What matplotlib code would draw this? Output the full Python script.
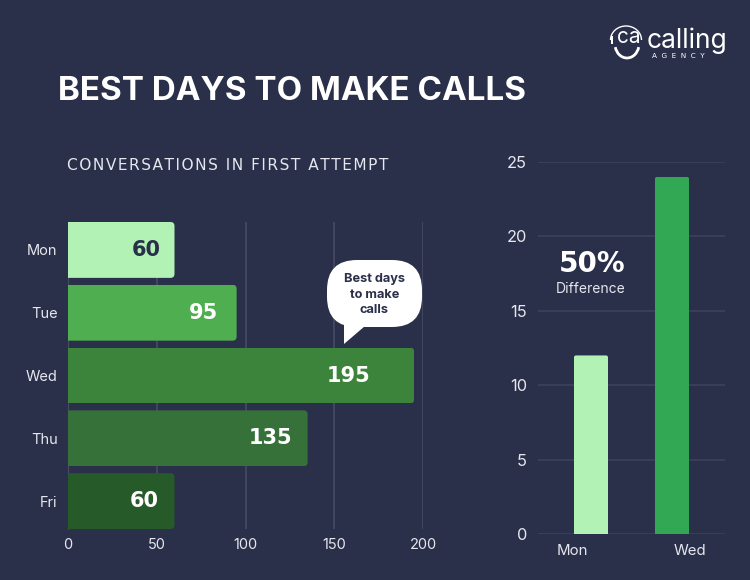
import matplotlib
matplotlib.use("Agg")
import matplotlib.pyplot as plt
from matplotlib.patches import FancyBboxPatch, Polygon, Arc, Rectangle

W, H = 750, 580
BG = "#2a2f4a"
GRID = "#494c68"
GRID_SOFT = "#3e4261"
TEXT = "#e6e7ee"

days = ["Mon", "Tue", "Wed", "Thu", "Fri"]
conversations = [60, 95, 195, 135, 60]
day_colors = ["#b3f2b5", "#4fae50", "#3c833b", "#36713a", "#265a28"]
label_colors = ["#2a2f4a", "white", "white", "white", "white"]
label_pads = [14, 19, 44, 15, 16]
x_ticks = [0, 50, 100, 150, 200]

compare_days = ["Mon", "Wed"]
compare_values = [12, 24]
compare_colors = ["#b3f2b5", "#33a854"]
y_ticks = [0, 5, 10, 15, 20, 25]

plt.rcParams["font.family"] = ["Inter", "DejaVu Sans"]


def px_axes(fig, left, top, right, bottom):
    return fig.add_axes([left / W, 1 - bottom / H, (right - left) / W, (bottom - top) / H])


def round_bar(ax, bar, radius_px, horizontal=True):
    # clip the plain bar with a rounded box, radius given in pixels
    x, y, w, h = bar.get_x(), bar.get_y(), bar.get_width(), bar.get_height()
    sx = ax.transData.transform((1, 0))[0] - ax.transData.transform((0, 0))[0]
    sy = abs(ax.transData.transform((0, 1))[1] - ax.transData.transform((0, 0))[1])
    rx = radius_px / sx
    if horizontal:
        box = FancyBboxPatch((x - rx * 3, y), w + rx * 3, h,
                             boxstyle=f"round,pad=0,rounding_size={rx}",
                             mutation_aspect=sx / sy, transform=ax.transData)
    else:
        extra = radius_px * 3 / sy
        box = FancyBboxPatch((x, y - extra), w, h + extra,
                             boxstyle=f"round,pad=0,rounding_size={rx}",
                             mutation_aspect=sx / sy, transform=ax.transData)
    bar.set_clip_path(box)


fig = plt.figure(figsize=(W / 100, H / 100), dpi=100, facecolor=BG)

# ── left chart ────────────────────────────────────────────────────────────────
ax = px_axes(fig, 68, 222, 423, 529)
ax.set_facecolor("none")
bars = ax.barh(days, conversations, height=0.89, color=day_colors, zorder=3)
ax.set_xlim(0, 200)
ax.set_ylim(4.445, -0.445)
ax.set_xticks(x_ticks)
ax.grid(axis="x", color=GRID, lw=1.1, zorder=0)
ax.grid(axis="y", visible=False)
ax.tick_params(length=0, colors=TEXT, labelsize=10.5, pad=6.5)
ax.tick_params(axis="y", pad=7.5)
for s in ax.spines.values():
    s.set_visible(False)
ax.spines["left"].set_visible(True)
ax.spines["left"].set_color(GRID)
for bar, val, col, pad, in zip(bars, conversations, label_colors, label_pads):
    round_bar(ax, bar, 4)
    ax.annotate(str(val), (val, bar.get_y() + bar.get_height() / 2),
                xytext=(-pad * 0.72, 0), textcoords="offset points",
                ha="right", va="center", color=col, zorder=4,
                fontsize=15, fontweight="bold", family="DejaVu Sans")

# ── right chart ───────────────────────────────────────────────────────────────
ax2 = px_axes(fig, 538, 162, 725, 534)
ax2.set_facecolor("none")
pos = [0, 1]
bars2 = ax2.bar(pos, compare_values, width=0.42, color=compare_colors, zorder=3)
ax2.set_xlim(-0.654, 1.654)
ax2.set_ylim(0, 25)
ax2.set_yticks(y_ticks)
# the day labels sit off centre in the original
ax2.set_xticks([-0.235, 1.22], compare_days)
ax2.grid(axis="y", color=GRID_SOFT, lw=1.1, zorder=0)
ax2.tick_params(length=0, colors=TEXT, labelsize=10.8, pad=7.5)
ax2.tick_params(axis="y", labelsize=11.8, pad=8)
for s in ax2.spines.values():
    s.set_visible(False)
for bar in bars2:
    round_bar(ax2, bar, 2, horizontal=False)

# ── overlay in pixel coordinates: titles, callout, logo ───────────────────────
ov = fig.add_axes([0, 0, 1, 1], zorder=10)
ov.set_xlim(0, W)
ov.set_ylim(H, 0)
ov.axis("off")

ov.text(58, 91, "BEST DAYS TO MAKE CALLS", color="white", fontsize=23.9,
        fontweight="bold", va="center", ha="left")
# matplotlib has no letter spacing, hair spaces between the letters do the job
ov.text(67, 166, "\u200a".join("CONVERSATIONS IN FIRST ATTEMPT"), color=TEXT, fontsize=11.07,
        va="center", ha="left", family=["DejaVu Sans"])

ov.text(592, 264, "50%", color="white", fontsize=20, fontweight="bold",
        family="DejaVu Sans", ha="center", va="center")
ov.text(591, 289, "Difference", color=TEXT, fontsize=10, ha="center", va="center")

# callout
ov.add_patch(FancyBboxPatch((327, 260), 95, 67, boxstyle="round,pad=0,rounding_size=30",
                            fc="white", ec="none"))
ov.add_patch(Polygon([(344, 320), (344, 344), (365, 326)], fc="white", ec="none"))
ov.text(374.5, 294.5, "Best days\nto make\ncalls", color=BG, fontsize=9.2, fontweight="bold",
        ha="center", va="center", linespacing=1.38)

# logo
ov.add_patch(Arc((626, 40), 31, 28, theta1=180, theta2=360, color="white", lw=1))
ov.add_patch(Arc((627, 44), 24, 28, theta1=15, theta2=165, color="white", lw=2))
ov.add_patch(Rectangle((610.5, 36), 2.5, 8, fc="white", ec="none"))
ov.text(629, 37, "ca", color="white", fontsize=15, ha="center", va="center")
ov.text(687, 41, "calling", color="white", fontsize=19, ha="center", va="center")
ov.text(678, 56, "A  G  E  N  C  Y", color="white", fontsize=5.2, ha="center", va="center",
        family="DejaVu Sans")

fig.savefig("out.png", dpi=100, facecolor=BG)
